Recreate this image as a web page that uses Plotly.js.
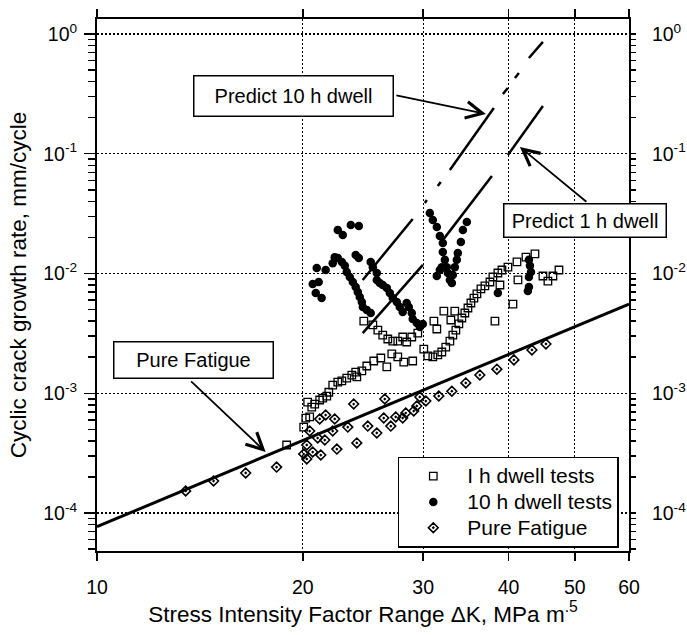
<!DOCTYPE html>
<html><head><meta charset="utf-8">
<script src="https://cdn.plot.ly/plotly-3.0.1.min.js"></script>
<style>html,body{margin:0;padding:0;background:#fff;}#chart{width:687px;height:635px;}</style>
</head><body><div id="chart"></div>
<script>
// ---- Data ----
// 1 h dwell tests (open squares)
const dwell1K = [18.94,20.06,20.20,20.47,20.33,20.61,20.82,21.17,21.39,21.68,21.83,22.12,22.50,22.81,23.19,23.59,23.99,23.90,24.40,24.81,25.40,26.01,26.54,26.99,27.54,28.10,28.96,
  24.56,25.32,25.75,26.18,26.63,27.08,27.54,28.00,28.38,28.87,29.46,
  30.06,30.47,30.99,31.51,31.94,32.37,32.82,33.15,33.49,33.83,34.17,34.52,34.88,35.23,35.59,35.95,36.44,36.93,37.56,37.94,38.58,39.11,39.91,41.14,42.41,43.71,
  31.10,31.41,32.16,32.93,33.37,38.20,38.85,40.59,41.28,44.90,45.66,46.44,47.39];
const dwell1Rate = [3.70e-4,5.22e-4,6.21e-4,6.34e-4,8.45e-4,7.67e-4,8.13e-4,8.79e-4,9.12e-4,9.48e-4,1.02e-3,1.17e-3,1.24e-3,1.27e-3,1.34e-3,1.42e-3,1.37e-3,1.50e-3,1.54e-3,1.69e-3,1.86e-3,1.97e-3,1.66e-3,2.13e-3,2.01e-3,1.82e-3,1.86e-3,
  4.01e-3,3.72e-3,3.37e-3,3.06e-3,2.84e-3,2.73e-3,2.73e-3,2.95e-3,2.68e-3,2.95e-3,3.18e-3,
  2.34e-3,2.05e-3,2.01e-3,2.09e-3,2.21e-3,2.43e-3,2.73e-3,3.06e-3,3.37e-3,3.79e-3,4.25e-3,4.68e-3,5.15e-3,5.67e-3,6.24e-3,6.75e-3,7.43e-3,7.87e-3,8.49e-3,9.35e-3,1.01e-2,1.07e-2,1.13e-2,1.25e-2,1.37e-2,1.46e-2,
  4.01e-3,3.44e-3,4.86e-3,4.09e-3,4.86e-3,4.01e-3,8.02e-3,5.56e-3,8.83e-3,9.53e-3,8.65e-3,9.53e-3,1.07e-2];

// 10 h dwell tests (filled circles)
const dwell10K = [20.96,20.68,21.10,20.89,21.31,21.60,22.12,22.27,22.50,22.81,23.04,23.19,23.43,23.67,23.90,24.07,24.23,24.40,24.48,24.81,25.14,22.50,22.88,23.51,24.15,23.90,24.15,
  25.14,25.32,25.66,25.66,25.92,26.18,26.54,26.81,27.08,27.45,27.72,28.00,28.38,28.58,28.87,28.96,29.36,29.66,29.96,
  30.68,30.99,31.41,31.73,32.05,32.05,32.27,32.48,32.60,32.82,33.04,31.41,31.73,31.94,33.15,33.37,33.60,33.71,34.06,34.29,34.75,
  38.58,42.83,42.98,43.13,42.83,42.83,42.68];
const dwell10Rate = [1.11e-2,8.17e-3,8.49e-3,6.87e-3,6.24e-3,1.07e-2,1.22e-2,1.37e-2,1.35e-2,1.25e-2,1.16e-2,1.03e-2,9.35e-3,8.49e-3,7.71e-3,7.00e-3,6.37e-3,5.78e-3,5.25e-3,4.96e-3,4.68e-3,2.31e-2,2.10e-2,2.54e-2,2.49e-2,1.43e-2,1.35e-2,
  1.25e-2,1.13e-2,1.01e-2,8.83e-3,8.33e-3,8.02e-3,7.57e-3,6.87e-3,6.24e-3,5.78e-3,5.25e-3,4.77e-3,5.67e-3,5.25e-3,4.68e-3,4.17e-3,3.86e-3,3.57e-3,3.79e-3,
  3.20e-2,2.80e-2,2.44e-2,2.06e-2,1.80e-2,1.51e-2,1.30e-2,1.13e-2,1.01e-2,8.83e-3,8.33e-3,9.53e-3,1.07e-2,1.13e-2,9.71e-3,1.13e-2,1.30e-2,1.48e-2,1.83e-2,2.31e-2,2.69e-2,
  6.87e-3,1.30e-2,1.16e-2,1.03e-2,9.35e-3,7.71e-3,7.14e-3];

// Pure fatigue tests (open diamonds)
const fatigueK = [13.48,14.81,16.50,18.31,20.06,20.27,20.27,20.47,20.68,21.25,21.03,21.54,21.17,21.60,22.27,22.12,22.43,23.27,23.74,23.99,24.89,25.66,26.27,26.36,26.90,27.35,28.00,28.29,29.06,29.36,29.66,30.27,31.62,33.04,34.63,36.31,38.45,40.72,43.27,45.36];
const fatigueRate = [1.53e-4,1.85e-4,2.16e-4,2.42e-4,3.11e-4,2.83e-4,3.70e-4,4.84e-4,3.23e-4,3.05e-4,4.23e-4,4.07e-4,6.10e-4,6.58e-4,6.10e-4,4.84e-4,3.42e-4,5.22e-4,8.13e-4,3.85e-4,5.32e-4,4.66e-4,6.21e-4,8.95e-4,5.32e-4,6.34e-4,6.21e-4,6.84e-4,7.11e-4,7.83e-4,9.31e-4,8.61e-4,9.48e-4,1.04e-3,1.22e-3,1.42e-3,1.59e-3,1.90e-3,2.30e-3,2.58e-3];

// Pure fatigue fit line
const fatigueFitK = [10, 60];
const fatigueFitRate = [7.69e-5, 5.56e-3];

// Predicted lines (broken line segments, null = gap)
const predict10K = [24.47,28.96,null,30.17,30.37,null,31.51,31.83,null,32.82,38.06,null,39.24,39.90,null,40.86,41.41,null,42.83,44.90];
const predict10Rate = [8.83e-3,2.85e-2,null,3.88e-2,4.11e-2,null,5.38e-2,5.81e-2,null,7.31e-2,0.241,null,0.315,0.354,null,0.429,0.472,null,0.630,0.86];
const predict1K = [24.47,29.97,null,32.05,37.81,null,39.90,44.90];
const predict1Rate = [3.18e-3,1.18e-2,null,1.90e-2,6.52e-2,null,9.76e-2,0.250];

// Ticks
const kTicks = [10,20,30,40,50,60];
const kTickText = ['10','20','30','40','50','60'];
const rateTicks = [1e-4,1e-3,1e-2,1e-1,1];
const rateTickText = ['10<sup>-4</sup>','10<sup>-3</sup>','10<sup>-2</sup>','10<sup>-1</sup>','10<sup>0</sup>'];
const seriesNames = ['I h dwell tests', '10 h dwell tests', 'Pure Fatigue'];

// ---- Chart ----
const FONT = 'Liberation Sans, Arial, sans-serif';
const yRange = [-4.317, 0.125];
// all decade sub-ticks (1..9 x 10^e) inside the range; decades keep their label
const allVals = [], allText = [];
for (let e = -5; e <= 0; e++) for (let m = 1; m <= 9; m++) {
  const v = m * Math.pow(10, e);
  const lv = Math.log10(v);
  if (lv > yRange[0] - 1e-9 && lv < yRange[1]) {
    allVals.push(v);
    const k = rateTicks.findIndex(t => Math.abs(Math.log10(t) - lv) < 1e-9);
    allText.push(k >= 0 ? rateTickText[k] : '');
  }
}
const big = s => '<span style="font-size:21px">' + s + '</span>';

const ghost = ax => ({x: fatigueFitK, y: fatigueFitRate, yaxis: ax, mode: 'lines', showlegend: false,
  opacity: 0, hoverinfo: 'skip', line: {width: 0}});

const traces = [
  {x: dwell1K, y: dwell1Rate, mode: 'markers', name: big(seriesNames[0]),
   marker: {symbol: 'square-open', size: 7.5, color: '#000', line: {width: 1.3, color: '#000'}}},
  {x: dwell10K, y: dwell10Rate, mode: 'markers', name: big(seriesNames[1]),
   marker: {symbol: 'circle', size: 8.5, color: '#000'}},
  {x: fatigueK, y: fatigueRate, mode: 'markers', name: big(seriesNames[2]),
   marker: {symbol: 'diamond-open-dot', size: 7.5, color: '#000', line: {width: 1.6, color: '#000'}}},
  {x: fatigueFitK, y: fatigueFitRate, mode: 'lines', showlegend: false,
   line: {color: '#000', width: 3}},
  {x: predict10K, y: predict10Rate, mode: 'lines', showlegend: false, connectgaps: false,
   line: {color: '#000', width: 2.5}},
  {x: predict1K, y: predict1Rate, mode: 'lines', showlegend: false, connectgaps: false,
   line: {color: '#000', width: 2.5}},
  ghost('y2'), ghost('y3')
];

const gridDash = '2px,2px';

const layout = {
  width: 687, height: 635,
  margin: {l: 97, r: 58, t: 19, b: 84},
  paper_bgcolor: '#fff', plot_bgcolor: '#fff',
  font: {family: FONT, color: '#000', size: 19},
  showlegend: true,
  xaxis: {
    type: 'log', range: [1, Math.log10(60)],
    tickmode: 'array', tickvals: kTicks, ticktext: kTickText,
    ticks: 'outside', ticklen: 8, tickwidth: 1.5, tickcolor: '#000',
    showline: true, linewidth: 2, linecolor: '#000', mirror: 'ticks',
    showgrid: true, gridcolor: '#000', gridwidth: 1.2, griddash: gridDash,
    zeroline: false, tickfont: {size: 19.5, family: FONT}, ticklabelstandoff: 10,
    title: {text: 'Stress Intensity Factor Range ΔK, MPa m<sup>.5</sup>', font: {size: 22.5, family: FONT}, standoff: 8}
  },
  // left axis: all decade sub-ticks, labels on the decades
  yaxis: {
    type: 'log', range: yRange,
    tickmode: 'array', tickvals: allVals, ticktext: allText,
    ticks: 'outside', ticklen: 7, tickwidth: 1.5, tickcolor: '#000',
    showline: true, linewidth: 2, linecolor: '#000', mirror: true,
    showgrid: false, zeroline: false,
    tickfont: {size: 19.5, family: FONT}, ticklabelstandoff: 7,
    title: {text: 'Cyclic crack growth rate, mm/cycle', font: {size: 22.5, family: FONT}, standoff: 10}
  },
  // right axis: all decade sub-ticks with labels on the decades
  yaxis2: {
    type: 'log', range: yRange, overlaying: 'y', side: 'right', anchor: 'x',
    tickmode: 'array', tickvals: allVals, ticktext: allText,
    ticks: 'outside', ticklen: 6, tickwidth: 1.5, tickcolor: '#000',
    showline: false, showgrid: false, zeroline: false,
    tickfont: {size: 19.5, family: FONT}, ticklabelstandoff: 12
  },
  // decade gridlines + long major ticks
  yaxis3: {
    type: 'log', range: yRange, overlaying: 'y', side: 'left', anchor: 'x',
    tickmode: 'array', tickvals: rateTicks, showticklabels: false,
    ticks: 'outside', ticklen: 12, tickwidth: 1.5, tickcolor: '#000',
    showline: false, showgrid: true, gridcolor: '#000', gridwidth: 1.2, griddash: gridDash,
    zeroline: false
  },
  legend: {
    x: 0.5654, y: 0.177, xanchor: 'left', yanchor: 'top',
    bgcolor: '#fff', bordercolor: '#000', borderwidth: 1.5,
    font: {size: 17.5, family: FONT}, itemwidth: 58
  },
  annotations: [
    {xref: 'paper', yref: 'paper', x: 0.3688, y: 0.855, text: 'Predict 10 h dwell', showarrow: false,
     font: {size: 20, family: FONT}, bordercolor: '#000', borderwidth: 1.5, borderpad: 0, bgcolor: '#fff',
     width: 198, height: 39, xanchor: 'center', yanchor: 'middle'},
    {xref: 'paper', yref: 'paper', x: 0.9172, y: 0.6212, text: 'Predict 1 h dwell', showarrow: false,
     font: {size: 20, family: FONT}, bordercolor: '#000', borderwidth: 1.5, borderpad: 0, bgcolor: '#fff',
     width: 161, height: 32, xanchor: 'center', yanchor: 'middle'},
    {xref: 'paper', yref: 'paper', x: 0.1806, y: 0.359, text: 'Pure Fatigue', showarrow: false,
     font: {size: 20, family: FONT}, bordercolor: '#000', borderwidth: 1.5, borderpad: 0, bgcolor: '#fff',
     width: 158, height: 35, xanchor: 'center', yanchor: 'middle'},
    {xref: 'paper', yref: 'paper', x: 0.7310, y: 0.8214, text: ' ', font: {size: 1},
     showarrow: true, arrowhead: 5, arrowsize: 1.8, arrowwidth: 1.8, arrowcolor: '#000', ax: -91, ay: -19, standoff: 0},
    {xref: 'paper', yref: 'paper', x: 0.7949, y: 0.7594, text: ' ', font: {size: 1},
     showarrow: true, arrowhead: 5, arrowsize: 1.8, arrowwidth: 1.8, arrowcolor: '#000', ax: 68, ay: 56, standoff: 0},
    {xref: 'paper', yref: 'paper', x: 0.3170, y: 0.1861, text: ' ', font: {size: 1},
     showarrow: true, arrowhead: 5, arrowsize: 1.8, arrowwidth: 1.8, arrowcolor: '#000', ax: -76, ay: -72, standoff: 0}
  ]
};

Plotly.newPlot('chart', traces, layout, {staticPlot: true, displayModeBar: false});
</script></body></html>
